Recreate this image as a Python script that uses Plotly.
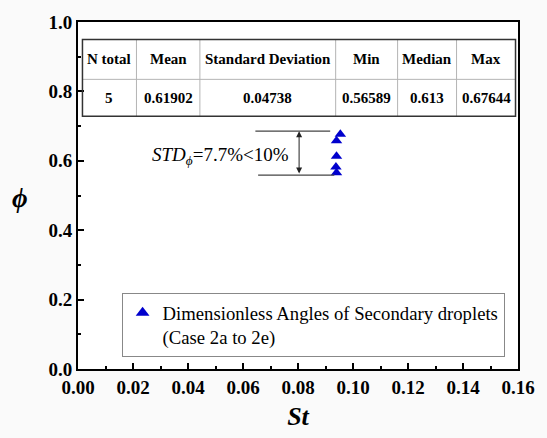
import plotly.graph_objects as go

# ---- data ----
st_values = [0.0954, 0.0940, 0.0940, 0.0938, 0.0940]
phi_values = [0.67644, 0.6575, 0.613, 0.5823, 0.56589]
series_name = "Dimensionless Angles of Secondary droplets<br>(Case 2a to 2e)"

table_headers = ["N total", "Mean", "Standard Deviation", "Min", "Median", "Max"]
table_values = ["5", "0.61902", "0.04738", "0.56589", "0.613", "0.67644"]
std_text = "<i>STD</i><sub><i>ϕ</i></sub>=7.7%&lt;10%"

x_ticks = [0.00, 0.02, 0.04, 0.06, 0.08, 0.10, 0.12, 0.14, 0.16]
x_ticklabels = ["0.00", "0.02", "0.04", "0.06", "0.08", "0.10", "0.12", "0.14", "0.16"]
y_ticks = [0.0, 0.2, 0.4, 0.6, 0.8, 1.0]
y_ticklabels = ["0.0", "0.2", "0.4", "0.6", "0.8", "1.0"]

# ---- geometry (pixels) ----
W, H = 547, 438
L, R, T, B = 78, 522, 19, 376


def px(x):
    return (x - L) / (R - L)


def py(y):
    return (B - y) / (B - T)


SERIF = "Liberation Serif, Times New Roman, serif"

fig = go.Figure()
fig.add_trace(go.Scatter(
    x=st_values, y=phi_values, mode="markers", name=series_name,
    marker=dict(symbol="triangle-up", size=10, color="#0000cd"),
))

shapes = []
annotations = []

# table
col_edges = [82.5, 137, 201, 338, 400.5, 460, 519.5]
row_edges = [37, 78, 116]
for i in range(1, len(col_edges) - 1):
    shapes.append(dict(type="line", xref="paper", yref="paper",
                       x0=px(col_edges[i]), x1=px(col_edges[i]),
                       y0=py(row_edges[0]), y1=py(row_edges[2]),
                       line=dict(color="#b4b4b4", width=1)))
shapes.append(dict(type="line", xref="paper", yref="paper",
                   x0=px(col_edges[0]), x1=px(col_edges[-1]),
                   y0=py(row_edges[1]), y1=py(row_edges[1]),
                   line=dict(color="#b4b4b4", width=1)))
shapes.append(dict(type="rect", xref="paper", yref="paper",
                   x0=px(col_edges[0]), x1=px(col_edges[-1]),
                   y0=py(row_edges[0]), y1=py(row_edges[2]),
                   line=dict(color="#333333", width=1.5)))
for i, (h, v) in enumerate(zip(table_headers, table_values)):
    cx = px((col_edges[i] + col_edges[i + 1]) / 2)
    annotations.append(dict(xref="paper", yref="paper", x=cx,
                            y=py((row_edges[0] + row_edges[1]) / 2),
                            xanchor="center", yanchor="middle",
                            text=f"<b>{h}</b>", showarrow=False,
                            font=dict(family=SERIF, size=15, color="black")))
    annotations.append(dict(xref="paper", yref="paper", x=cx,
                            y=py((row_edges[1] + row_edges[2]) / 2),
                            xanchor="center", yanchor="middle",
                            text=f"<b>{v}</b>", showarrow=False,
                            font=dict(family=SERIF, size=15, color="black")))

# STD bracket
top_y = max(phi_values) + 0.009
bot_y = min(phi_values) - 0.007
shapes.append(dict(type="line", xref="x", yref="y", x0=0.0645, x1=0.0917,
                   y0=top_y, y1=top_y, line=dict(color="#444444", width=1.2)))
shapes.append(dict(type="line", xref="x", yref="y", x0=0.0655, x1=0.0932,
                   y0=bot_y, y1=bot_y, line=dict(color="#444444", width=1.2)))
annotations.append(dict(xref="x", yref="y", axref="x", ayref="y",
                        x=0.0804, y=top_y, ax=0.0804, ay=bot_y,
                        showarrow=True, arrowhead=2, arrowside="end+start",
                        arrowsize=1.2, arrowwidth=1, arrowcolor="#222222",
                        text=""))
annotations.append(dict(xref="paper", yref="paper", x=px(222), y=py(157),
                        xanchor="center", yanchor="middle",
                        text=std_text, showarrow=False,
                        font=dict(family=SERIF, size=19, color="black")))
# y-axis title
annotations.append(dict(xref="paper", yref="paper", x=px(19), y=py(200),
                        xanchor="center", yanchor="middle",
                        text="<b><i>ϕ</i></b>", showarrow=False,
                        font=dict(family=SERIF, size=27, color="black")))

axis_common = dict(
    showline=True, linecolor="black", linewidth=2, mirror=True,
    ticks="inside", ticklen=6, tickwidth=2, tickcolor="black",
    showgrid=False, zeroline=False,
    tickfont=dict(family=SERIF, size=19, color="black", weight="bold"),
)

fig.update_layout(
    width=W, height=H,
    margin=dict(l=L, r=W - R, t=T, b=H - B),
    font=dict(family=SERIF, color="black"),
    paper_bgcolor="#fafafa", plot_bgcolor="white",
    xaxis=dict(range=[0, 0.16], tickvals=x_ticks, ticktext=x_ticklabels,
               minor=dict(ticks="inside", ticklen=3, tickwidth=2, dtick=0.01, tickcolor="black"),
               title=dict(text="<b><i>St</i></b>", standoff=10,
                          font=dict(family=SERIF, size=26, color="black")),
               **axis_common),
    yaxis=dict(range=[0, 1.0], tickvals=y_ticks, ticktext=y_ticklabels,
               minor=dict(ticks="inside", ticklen=3, tickwidth=2, dtick=0.1, tickcolor="black"),
               **axis_common),
    showlegend=True,
    legend=dict(x=px(122), y=py(298), xanchor="left", yanchor="top",
                bordercolor="#888888", borderwidth=1, bgcolor="white",
                valign="top", itemsizing="constant",
                font=dict(family=SERIF, size=18.7, color="black")),
    shapes=shapes, annotations=annotations,
)

fig.write_html("out.html")
